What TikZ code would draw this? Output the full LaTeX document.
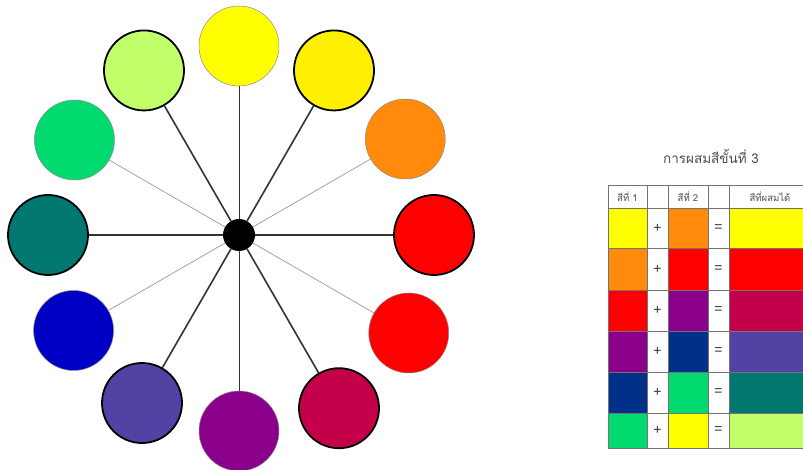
\documentclass[tikz,border=0pt]{standalone}
\usepackage{fontspec}
\newfontfamily\thaifont[Script=Thai]{Loma}
\newfontfamily\opfont{Liberation Sans}
\usetikzlibrary{positioning}

% Colours
\definecolor{cYellow}{HTML}{FFFF00}
\definecolor{cAmber}{HTML}{FFEF00}
\definecolor{cOrange}{HTML}{FF8A0C}
\definecolor{cRed}{HTML}{FF0000}
\definecolor{cCrimson}{HTML}{C4004A}
\definecolor{cPurple}{HTML}{8A008A}
\definecolor{cViolet}{HTML}{5342A4}
\definecolor{cBlue}{HTML}{0000C4}
\definecolor{cTeal}{HTML}{00786F}
\definecolor{cGreen}{HTML}{00DA6E}
\definecolor{cLime}{HTML}{C0FF6A}
\definecolor{cNavy}{HTML}{003088}

\tikzset{
  wheel/.style={circle, minimum size=80pt, inner sep=0pt},
  rim/.style={draw=black, line width=1.8pt},
  thinrim/.style={draw=black!45, line width=0.5pt},
  spoke/.style={draw=black!80, line width=1.6pt},
  midspoke/.style={draw=black!80, line width=1pt},
  thinspoke/.style={draw=black!40, line width=0.7pt},
  cell/.style={draw=black!55, line width=0.6pt},
  tabtext/.style={text=black!70, font=\thaifont\fontsize{9.5}{10}\selectfont},
  optext/.style={text=black!80, font=\opfont\fontsize{14}{14}\selectfont}
}

\begin{document}
\begin{tikzpicture}[x=1pt, y=1pt]
\useasboundingbox (0,0) rectangle (803,470);

% Hub
\node[circle, fill=black, minimum size=32pt, inner sep=0pt] (hub) at (239,235) {};

% Wheel of colours
\begin{scope}[shift={(239,235)}]
\node[wheel, fill=cYellow, thinrim] (wYellow) at (90:189) {};
\node[wheel, fill=cAmber, rim] (wAmber) at (60:190) {};
\node[wheel, fill=cOrange, thinrim] (wOrange) at (30:192) {};
\node[wheel, fill=cRed, rim] (wRed) at (0:195) {};
\node[wheel, fill=cRed, thinrim] (wScarlet) at (-30:196) {};
\node[wheel, fill=cCrimson, rim] (wCrimson) at (-60:200) {};
\node[wheel, fill=cPurple, thinrim] (wPurple) at (-90:196) {};
\node[wheel, fill=cViolet, rim] (wViolet) at (-120:194) {};
\node[wheel, fill=cBlue, thinrim] (wBlue) at (-150:191) {};
\node[wheel, fill=cTeal, rim] (wTeal) at (180:191) {};
\node[wheel, fill=cGreen, thinrim] (wGreen) at (150:190) {};
\node[wheel, fill=cLime, rim] (wLime) at (120:190) {};
\end{scope}

% Spokes
\draw[spoke] (hub) -- (wRed);
\draw[spoke] (hub) -- (wTeal);
\draw[spoke] (hub) -- (wAmber);
\draw[spoke] (hub) -- (wLime);
\draw[spoke] (hub) -- (wViolet);
\draw[spoke] (hub) -- (wCrimson);
\draw[midspoke] (hub) -- (wYellow);
\draw[midspoke] (hub) -- (wPurple);
\draw[thinspoke] (hub) -- (wOrange);
\draw[thinspoke] (hub) -- (wScarlet);
\draw[thinspoke] (hub) -- (wBlue);
\draw[thinspoke] (hub) -- (wGreen);

% Title
\node[tabtext, font=\thaifont\fontsize{13.5}{15}\selectfont] (title) at (711,314) {การผสมสีขั้นที่ 3};

% Table header
\draw[cell] (608,262) rectangle (647,285);
\draw[cell] (647,262) rectangle (668,285);
\draw[cell] (668,262) rectangle (708,285);
\draw[cell] (708,262) rectangle (729,285);
\draw[cell] (729,262) rectangle (811,285);
\node[tabtext] (head1) at (627.5,273.5) {สีที่ 1};
\node[tabtext] (head2) at (688,273.5) {สีที่ 2};
\node[tabtext] (head3) at (770,273.5) {สีที่ผสมได้};

% Table rows
\foreach \top/\bot/\ca/\cb/\cc [count=\i] in {
    262/222/cYellow/cOrange/cYellow,
    222/180/cOrange/cRed/cRed,
    180/139/cRed/cPurple/cCrimson,
    139/98/cPurple/cNavy/cViolet,
    98/57/cNavy/cGreen/cTeal,
    57/22/cGreen/cYellow/cLime} {
  \draw[cell, fill=\ca] (608,\bot) rectangle (647,\top);
  \draw[cell] (647,\bot) rectangle (668,\top);
  \draw[cell, fill=\cb] (668,\bot) rectangle (708,\top);
  \draw[cell] (708,\bot) rectangle (729,\top);
  \draw[cell, fill=\cc] (729,\bot) rectangle (811,\top);
  \node[optext] (plus\i) at (657.5,{(\top+\bot)/2}) {+};
  \node[optext] (eq\i) at (718.5,{(\top+\bot)/2}) {=};
}

\end{tikzpicture}
\end{document}
